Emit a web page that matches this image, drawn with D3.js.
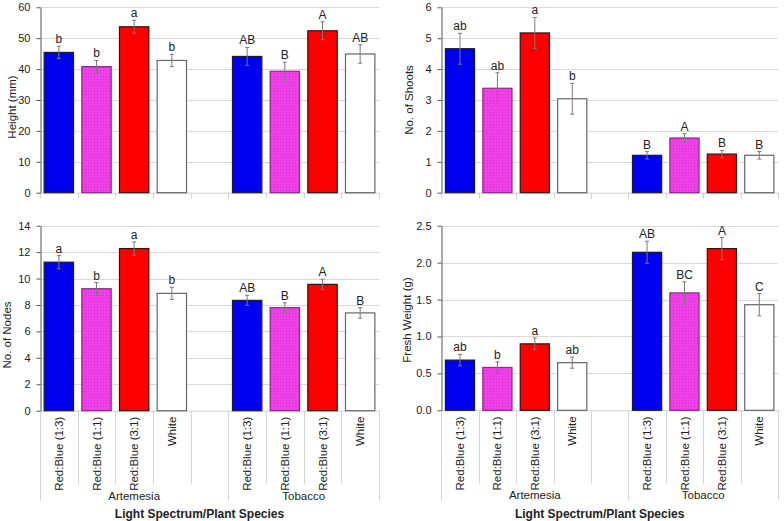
<!DOCTYPE html>
<html lang="en">
<head>
    <meta charset="UTF-8">
    <title>Light Spectrum / Plant Species</title>
    <script src="https://d3js.org/d3.v7.min.js"></script>
    <style>
        body { margin: 0; background: #fff; font-family: "Liberation Sans", Arial, sans-serif; }
        text { font-family: "Liberation Sans", Arial, sans-serif; fill: #222; }
        .grid line { stroke: #d9d9d9; stroke-width: 1; }
        .tick-label { font-size: 11px; }
        .axis-title { font-size: 11.5px; }
        .letter { font-size: 12px; }
        .cat-label { font-size: 11.5px; }
        .group-label { font-size: 11.5px; }
        .x-title { font-size: 12px; font-weight: bold; }
    </style>
</head>
<body>
<div id="chart"></div>
<script>
    // ---- data ----
    const groups = ["Artemesia", "Tobacco"];
    const spectra = ["Red:Blue (1:3)", "Red:Blue (1:1)", "Red:Blue (3:1)", "White"];

    const heightMean = [45.4, 40.8, 53.7, 42.8, 44.1, 39.3, 52.4, 44.9];
    const heightErr = [2.0, 2.0, 2.1, 2.0, 2.9, 2.9, 2.9, 3.0];
    const heightLetters = ["b", "b", "a", "b", "AB", "B", "A", "AB"];
    const heightTicks = [0, 10, 20, 30, 40, 50, 60];

    const shootsMean = [4.66, 3.38, 5.17, 3.04, 1.21, 1.77, 1.25, 1.21];
    const shootsErr = [0.5, 0.5, 0.5, 0.5, 0.12, 0.14, 0.12, 0.12];
    const shootsLetters = ["ab", "ab", "a", "b", "B", "A", "B", "B"];
    const shootsTicks = [0, 1, 2, 3, 4, 5, 6];

    const nodesMean = [11.24, 9.23, 12.27, 8.88, 8.35, 7.8, 9.56, 7.4];
    const nodesErr = [0.5, 0.47, 0.5, 0.46, 0.38, 0.36, 0.39, 0.4];
    const nodesLetters = ["a", "b", "a", "b", "AB", "B", "A", "B"];
    const nodesTicks = [0, 2, 4, 6, 8, 10, 12, 14];

    const weightMean = [0.68, 0.58, 0.90, 0.645, 2.14, 1.59, 2.19, 1.43];
    const weightErr = [0.077, 0.077, 0.08, 0.075, 0.15, 0.15, 0.15, 0.15];
    const weightLetters = ["ab", "b", "a", "ab", "AB", "BC", "A", "C"];
    const weightTicks = [0, 0.5, 1.0, 1.5, 2.0, 2.5];

    const fills = ["#0000f0", "url(#magentaDots)", "#ff0000", "#ffffff"];
    const strokes = ["#1a1a3a", "#8a2a8a", "#3a1010", "#666666"];

    const W = 784, H = 521;

    const svg = d3.select("#chart").append("svg")
        .attr("width", W)
        .attr("height", H);

    // dotted magenta fill
    const pat = svg.append("defs").append("pattern")
        .attr("id", "magentaDots")
        .attr("patternUnits", "userSpaceOnUse")
        .attr("width", 3).attr("height", 3);
    pat.append("rect").attr("width", 3).attr("height", 3).attr("fill", "#f040e8");
    pat.append("rect").attr("x", 1).attr("y", 1).attr("width", 1).attr("height", 1).attr("fill", "#d030d0");

    // slot keys: 4 spectra, empty gap, 4 spectra
    const slots = [];
    groups.forEach((g, gi) => {
        spectra.forEach(s => slots.push({ group: g, spectrum: s, key: g + "|" + s }));
        if (gi === 0) slots.push({ group: null, spectrum: null, key: "gap" });
    });
    const barSlots = slots.filter(s => s.group);

    const panels = [
        { title: "Height (mm)", mean: heightMean, err: heightErr, letters: heightLetters, ticks: heightTicks, fmt: d3.format("d"),
          x0: 40, x1: 379, y0: 7.3, y1: 192.7, titleX: 12, titleY: 107, labels: false },
        { title: "No. of Shoots", mean: shootsMean, err: shootsErr, letters: shootsLetters, ticks: shootsTicks, fmt: d3.format("d"),
          x0: 441.3, x1: 778, y0: 7.3, y1: 192.7, titleX: 409, titleY: 100, labels: false },
        { title: "No. of Nodes", mean: nodesMean, err: nodesErr, letters: nodesLetters, ticks: nodesTicks, fmt: d3.format("d"),
          x0: 40, x1: 379, y0: 225.7, y1: 410.7, titleX: 7, titleY: 335, labels: true },
        { title: "Fresh Weight (g)", mean: weightMean, err: weightErr, letters: weightLetters, ticks: weightTicks, fmt: d3.format(".1f"),
          x0: 441.3, x1: 778, y0: 225.7, y1: 410.3, titleX: 407, titleY: 320, labels: true }
    ];

    panels.forEach(p => {
        const g = svg.append("g");
        const x = d3.scaleBand().domain(slots.map(s => s.key)).range([p.x0, p.x1]).padding(0);
        const y = d3.scaleLinear().domain([p.ticks[0], p.ticks[p.ticks.length - 1]]).range([p.y1, p.y0]);
        const bw = x.bandwidth() * 0.78;
        const off = (x.bandwidth() - bw) / 2;

        // gridlines
        g.append("g").attr("class", "grid")
            .selectAll("line").data(p.ticks.slice(1)).join("line")
            .attr("x1", p.x0).attr("x2", p.x1)
            .attr("y1", d => Math.round(y(d)) + 0.5).attr("y2", d => Math.round(y(d)) + 0.5);

        // x baseline + slot ticks
        const xAxis = d3.axisBottom(x).tickFormat("").tickSizeOuter(0).tickSizeInner(0);
        const xg = g.append("g").attr("transform", `translate(0,${p.y1})`).call(xAxis);
        xg.select(".domain").attr("stroke", "#d0d0d0");
        const bounds = slots.map((s, i) => x(s.key)).concat([p.x1]);
        const groupIdx = [0, 5, 9];
        xg.selectAll("line.sep").data(bounds).join("line")
            .attr("class", "sep")
            .attr("x1", d => Math.round(d) + 0.5).attr("x2", d => Math.round(d) + 0.5)
            .attr("y1", 0)
            .attr("y2", (d, i) => p.labels ? (groupIdx.includes(i) ? 90 : 73) : 6)
            .attr("stroke", "#d4d4d4");

        if (p.labels) {
            g.selectAll("text.cat").data(barSlots).join("text")
                .attr("class", "cat-label")
                .attr("text-anchor", "end")
                .attr("dy", "0.35em")
                .attr("transform", d => `translate(${x(d.key) + x.bandwidth() / 2},${p.y1 + 6}) rotate(-90)`)
                .text(d => d.spectrum);
            g.selectAll("text.grp").data(groups).join("text")
                .attr("class", "group-label")
                .attr("text-anchor", "middle")
                .attr("x", (d, i) => (bounds[groupIdx[i]] + bounds[groupIdx[i + 1]]) / 2)
                .attr("y", p.y1 + 89)
                .text(d => d);
            g.append("text")
                .attr("class", "x-title")
                .attr("text-anchor", "middle")
                .attr("x", (p.x0 + p.x1) / 2 - 10)
                .attr("y", 518)
                .text("Light Spectrum/Plant Species");
        }

        // bars
        g.selectAll("rect.bar").data(barSlots).join("rect")
            .attr("class", "bar")
            .attr("x", d => x(d.key) + off)
            .attr("width", bw)
            .attr("y", (d, i) => y(p.mean[i]))
            .attr("height", (d, i) => y(0) - y(p.mean[i]))
            .attr("fill", (d, i) => fills[i % 4])
            .attr("stroke", (d, i) => strokes[i % 4])
            .attr("stroke-width", 1.2);

        // error bars
        const eb = g.selectAll("g.err").data(barSlots).join("g").attr("class", "err")
            .attr("stroke", "#7a7a7a").attr("stroke-width", 1);
        eb.append("line")
            .attr("x1", d => x(d.key) + x.bandwidth() / 2).attr("x2", d => x(d.key) + x.bandwidth() / 2)
            .attr("y1", (d, i) => y(p.mean[i] - p.err[i])).attr("y2", (d, i) => y(p.mean[i] + p.err[i]));
        eb.append("line")
            .attr("x1", d => x(d.key) + x.bandwidth() / 2 - 2).attr("x2", d => x(d.key) + x.bandwidth() / 2 + 2)
            .attr("y1", (d, i) => y(p.mean[i] + p.err[i])).attr("y2", (d, i) => y(p.mean[i] + p.err[i]));
        eb.append("line")
            .attr("x1", d => x(d.key) + x.bandwidth() / 2 - 2).attr("x2", d => x(d.key) + x.bandwidth() / 2 + 2)
            .attr("y1", (d, i) => y(p.mean[i] - p.err[i])).attr("y2", (d, i) => y(p.mean[i] - p.err[i]));

        // significance letters
        g.selectAll("text.letter").data(barSlots).join("text")
            .attr("class", "letter")
            .attr("text-anchor", "middle")
            .attr("x", d => x(d.key) + x.bandwidth() / 2)
            .attr("y", (d, i) => y(p.mean[i] + p.err[i]) - 3)
            .text((d, i) => p.letters[i]);

        // y axis
        const yAxis = d3.axisLeft(y).tickValues(p.ticks).tickFormat(p.fmt).tickSize(4).tickPadding(6).tickSizeOuter(0);
        const yg = g.append("g").attr("transform", `translate(${Math.round(p.x0) + 0.5},0)`).call(yAxis);
        yg.select(".domain").attr("stroke", "#555");
        yg.selectAll(".tick line").attr("stroke", "#555");
        yg.selectAll(".tick text").attr("class", "tick-label").attr("fill", "#222");

        g.append("text")
            .attr("class", "axis-title")
            .attr("text-anchor", "middle")
            .attr("transform", `translate(${p.titleX},${p.titleY}) rotate(-90)`)
            .attr("dy", "0.35em")
            .text(p.title);
    });
</script>
</body>
</html>
